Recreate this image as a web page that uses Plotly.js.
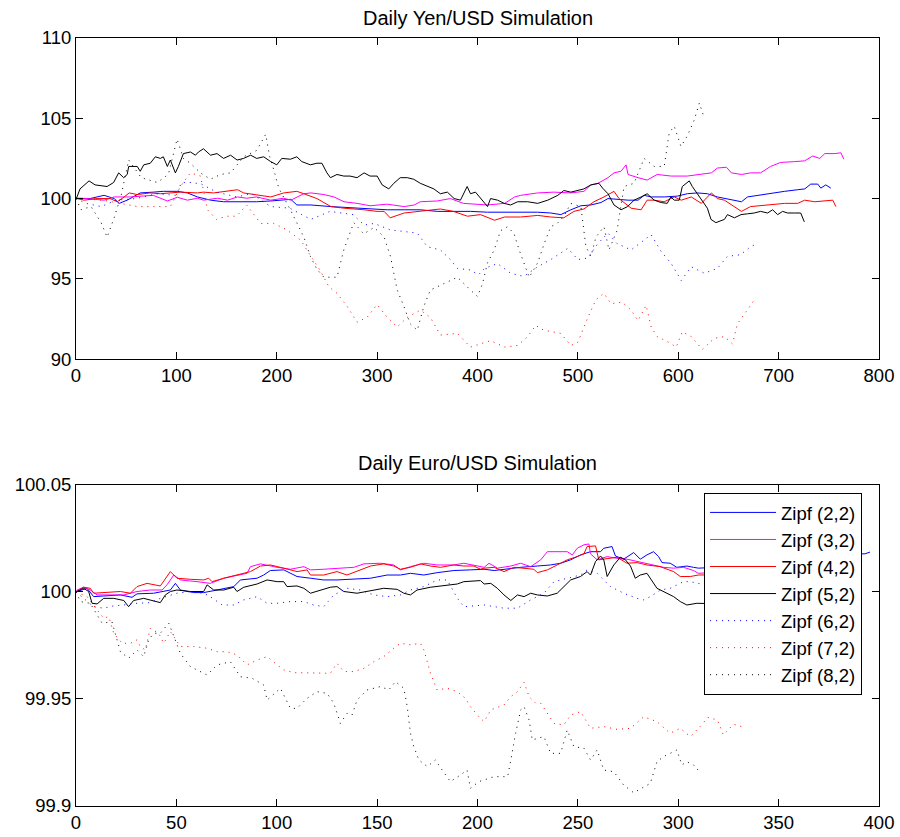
<!DOCTYPE html>
<html>
<head>
<meta charset="utf-8">
<script src="https://cdn.plot.ly/plotly-3.0.1.min.js"></script>
<style>html,body{margin:0;padding:0;background:#fff;}#chart{width:900px;height:837px;}</style>
</head>
<body>
<div id="chart"></div>
<script>
// ---------- Daily Yen/USD Simulation ----------
const seriesNames = ["Zipf (2,2)","Zipf (3,2)","Zipf (4,2)","Zipf (5,2)","Zipf (6,2)","Zipf (7,2)","Zipf (8,2)"];

const yenX22 = [0,1,14,28,38,43,51,64,77,87,101,111,121,134,147,167,180,194,214,220,234,254,277,293,310,327,343,360,376,393,410,427,443,460,473,483,493,503,513,523,530,540,550,560,566,573,586,599,609,619,629,639,653,663,669,679,692,706,719,726,732,739,742,747,752];
const yenY22 = [100,100.02,100,100.2,100,99.7,99.9,100.35,100.4,100.45,100.45,100.35,100.1,99.9,99.8,99.8,99.8,99.85,99.95,99.6,99.6,99.5,99.4,99.35,99.3,99.3,99.3,99.2,99.2,99.2,99.15,99.15,99.15,99.15,99.1,99.0,99.3,99.55,99.6,99.75,100.0,99.95,99.9,99.9,100.2,100.1,100.1,100.15,100.3,100.35,100.3,100.1,99.9,99.8,100.1,100.2,100.35,100.45,100.55,100.6,100.9,100.9,100.65,100.85,100.65];

const yenX32 = [0,1,11,28,38,54,77,91,101,111,121,127,141,151,161,170,180,194,207,214,227,234,247,257,267,280,293,310,327,337,343,360,373,386,403,410,427,437,443,460,476,493,506,513,520,530,536,543,548,550,560,569,579,593,609,623,633,639,648,653,663,672,682,692,702,716,726,734,741,746,756,762,765];
const yenY32 = [100,100,100,99.9,100.1,100.1,100.2,99.85,100.08,99.9,100.02,99.9,100.02,99.9,100.1,100.02,100.1,99.9,100.02,99.9,100.3,100.35,100.25,100.1,99.8,99.7,99.55,99.65,99.5,99.6,99.8,99.85,100.0,99.7,99.65,99.6,99.7,100.1,100.2,100.35,100.4,100.35,100.45,100.85,100.95,101.3,101.6,101.7,102.1,101.5,101.3,101.15,101.5,101.4,101.4,101.5,101.6,101.9,101.95,101.6,101.5,101.6,101.6,102.0,102.25,102.3,102.35,102.65,102.5,102.8,102.8,102.85,102.45];

const yenX42 = [0,1,8,21,34,41,48,53,61,74,84,94,104,121,127,137,151,161,167,180,194,207,220,227,240,254,267,287,300,307,313,327,343,353,363,376,390,403,407,417,427,443,460,473,486,496,506,516,526,536,541,553,563,569,576,586,596,603,613,623,633,639,646,653,663,672,682,692,706,719,726,736,746,754,757];
const yenY42 = [100,100,99.9,100,100,99.8,100.1,100.35,100.25,100.35,100.3,100.35,100.4,100.35,100.4,100.35,100.45,100.55,100.35,100.25,100.1,100.35,100.45,100.3,100.0,99.5,99.4,99.3,99.2,99.2,98.8,99.1,99.2,99.3,99.35,99.2,98.9,99.0,98.9,98.65,98.85,98.85,98.95,98.85,98.8,99.2,99.35,99.8,100.1,100.45,100.0,99.4,99.3,99.9,99.9,99.8,100.1,99.9,100.1,99.7,100.35,100.0,99.9,99.6,99.2,99.5,99.55,99.6,99.7,99.7,99.9,99.8,99.85,99.9,99.5];

const yenX52 = [0,1,4,13,19,31,37.5,42.5,47.5,51,52.5,61,64,67.5,74,79,84,87,91,94,99,102,107,114,119,122,127,134,140.5,147,154,160.5,167,174,180,187,194,200,205,213.6,220,225,233.5,240,245,250,253.5,260,266.8,273,280,287,293,300,305,311.6,316.6,323,330,336.5,343,350,356.5,363,370,376.7,383,389.7,393,398,403,410,413,420,426.6,433,440,450,460,470,480,486,493,500,506,513,521,524.6,530,536,543,549.5,556,563,569,576,583,589,592.7,596,601,604,611,614,619,624,629,632.6,637.5,646,649,656,662.5,669,675.7,682,689,694,699,704,709,715.6,722,725.6];
const yenY52 = [100,100.1,100.6,101.1,100.85,100.75,101.0,101.6,101.3,101.5,102.0,102.0,101.7,102.1,102.2,102.6,102.5,102.6,102.0,102.4,101.6,102.0,102.8,102.9,102.7,102.9,103.1,102.7,102.8,102.5,102.7,102.4,102.5,102.7,102.5,102.6,102.3,102.1,102.5,102.45,102.6,102.3,102.1,102.2,102.2,101.6,101.3,101.5,101.4,101.4,101.3,101.6,101.4,101.4,100.85,100.6,100.95,101.3,101.3,101.2,100.95,100.75,100.6,100.3,100.4,100.0,99.9,100.75,100.3,100.4,100.0,99.5,100.0,99.9,99.7,99.6,99.8,99.8,99.7,99.9,100.2,100.5,100.4,100.5,100.6,100.85,100.95,100.65,100.3,99.6,99.3,99.5,99.9,100.1,100.3,99.9,99.75,99.7,100.1,99.9,99.9,100.75,101.1,100.75,100.3,99.9,99.4,98.7,98.5,98.7,99.0,98.8,99.0,99.05,99.1,99.2,99.1,99.3,99.0,99.2,99.1,99.1,99.1,98.55];

const yenX62 = [0,10,25,40,60,80,100,105,115,125,140,160,175,194,213,234,253,276,287,297,313,327,340,350,363,373,380,393,401,407,420,433,446,460,473,490,500,510,520,530,539,553,566,573,583,593,603,613,626,639,649,662,672,679];
const yenY62 = [100,99.7,99.5,99.9,100.0,100.3,100.2,101.0,101.0,100.9,100.4,100.1,100.3,99.5,99.4,98.7,99.2,99.0,98.35,98.45,98.05,97.95,97.85,97.0,96.8,96.2,95.65,95.55,95.25,95.65,95.95,95.35,95.15,95.75,96.2,96.9,96.2,96.3,97.2,97.85,97.2,96.8,97.4,97.75,96.7,95.95,94.9,95.75,95.35,95.65,96.4,96.5,97.0,97.2];

const yenX72 = [0,27,61,94,104,114,124,131,140,150,160,170,184,197,210,224,234,243,252,260,270,280,290,300,310,320,330,343,353,363,380,393,403,413,427,440,450,458,466,473,483,493,500,510,518,526,533,544,553,560,568,573,579,589,598,604,613,624,636,646,654,659,669,676];
const yenY72 = [100,99.9,99.5,99.5,100.75,101.6,101.4,99.3,98.7,98.9,98.9,99.6,98.45,98.45,98.05,97.4,96.4,95.55,94.5,94.1,93.3,92.3,92.6,93.4,92.6,92.0,92.6,93.05,92.6,91.5,91.6,90.75,90.95,91.15,90.75,90.85,91.4,92.1,91.8,91.7,91.6,90.85,91.05,92.6,93.7,94.1,93.45,93.55,93.05,92.4,93.35,92.0,91.4,91.1,90.75,91.7,91.4,90.6,91.3,91.4,90.95,92.2,93.05,93.7];

const yenX82 = [0,5,15,25,31,38,45,52.5,65,81,92,100.7,107,114,124,134,144,154,167,180,189,193,197,202,213.6,220,227,233.5,240,247,260,266.8,276.7,286.6,297,307,313.3,320,326.6,333,340,346.6,353,366.5,380,393,400,405,410,416.6,423,430,436.5,441.5,446.5,451.5,460,466.5,473,479.5,486,493,503,508,513,518,526,531,539,546,556,563,566,576,586,591,596,602.7,609,616,621,626];
const yenY82 = [100,99.3,99.5,98.5,97.6,98.8,100.2,102.4,101.3,101.0,101.5,103.7,102.5,102.2,101.6,101.2,101.5,101.6,102.6,103.0,104.0,102.6,101.8,100.65,99.3,98.5,97.6,96.4,95.6,95.1,95.1,96.8,98.5,97.8,98.2,97.6,96.4,94.3,93.3,92.2,91.8,93.3,94.3,94.7,95.1,94.3,93.9,94.7,96.0,96.8,98.0,98.25,97.8,96.8,96.0,95.1,96.0,97.2,98.25,98.45,98.9,99.7,99.5,97.0,96.4,97.6,98.25,96.8,98.0,100.75,100.95,102.0,102.5,102.0,102.0,104.1,104.5,103.25,103.9,104.9,105.95,105.0];

// ---------- Daily Euro/USD Simulation ----------
const euroX22 = [0,0.5,5.5,8.8,13.8,22.1,27.9,30.4,38.7,43.7,47,49.5,52,58.6,63.6,68.6,75.2,78.6,81.9,90.2,93.5,96.8,103.5,110.1,116.8,123.4,130,138.4,146.7,155,161.6,166.6,173.3,179.9,188.2,196.5,201.5,203.3,208.3,213.2,221.5,229.8,236.4,241.4,246.4,251.3,256.3,261.3,262.9,267,268.7,272.8,276.2,277.8,281.1,284.4,287.7,290.2,291.9,296,299.3,304.3,307.6,310.1,325,340,355,370,383,389,393,395.5];
const euroY22 = [100,100.0002,100.0017,99.9978,99.9981,99.9986,99.9975,99.9991,99.9994,100.0002,100.0009,100.004,100.0009,99.9997,99.9997,100.0006,100.0017,100.0025,100.0056,100.0064,100.0079,100.01,100.0103,100.0072,100.0064,100.0056,100.0056,100.0059,100.0064,100.0079,100.0079,100.0087,100.0079,100.009,100.01,100.0103,100.0106,100.0106,100.01,100.0106,100.0115,100.0121,100.0126,100.0134,100.015,100.0173,100.0188,100.0188,100.0204,100.0212,100.0168,100.0153,100.0173,100.0184,100.0153,100.0173,100.0188,100.0165,100.0137,100.0134,100.0115,100.0121,100.0115,100.0111,100.0118,100.013,100.0145,100.016,100.0172,100.0178,100.0178,100.0186];

const euroX32 = [0,0.5,3.8,7.1,10.5,17.1,23.8,30.4,37,42.9,45.3,48.7,52,60.3,66.9,73.6,80.2,85.2,86.9,91.9,100.2,106.8,113.5,116.8,123.4,130,138.4,143.4,151.7,158.3,161.6,166.6,173.3,179.9,188.2,193.2,201.5,203.3,205.8,209.9,216.6,221.5,226.5,231.5,234.8,239.7,244.7,247.2,249.7,253,255.5,256.3,259.6,264.6,269.5,274.5,279.5,286.1,292.7,297.7,302.6,307.6,310,320,333];
const euroY32 = [100,100.0009,100.0022,100.0009,99.9986,99.9986,99.9986,100.0002,100.0009,100.0009,100.0033,100.0079,100.0056,100.0048,100.004,100.0064,100.0079,100.0087,100.0118,100.0131,100.0115,100.0106,100.0118,100.0103,100.0106,100.0111,100.0115,100.0131,100.0134,100.0126,100.0103,100.0118,100.0134,100.0126,100.0126,100.0134,100.0121,100.0115,100.0134,100.0111,100.0121,100.0134,100.0118,100.015,100.0188,100.0188,100.0188,100.0173,100.0204,100.022,100.0224,100.0178,100.015,100.0165,100.0157,100.0153,100.0142,100.0126,100.0115,100.0111,100.0115,100.01,100.0087,100.0092,100.0088];

const euroX42 = [0,0.5,3.8,7.1,8.8,13.8,22.1,27.1,30.4,35.4,42,47,50.3,57,63.6,66.1,67.8,73.6,80.2,86.9,91.9,96.8,103.5,110.1,115.1,116.8,123.4,130,135,141.7,146.7,153.3,158.3,161.6,166.6,171.6,176.6,181.6,188.2,193.2,198.2,201.5,203.3,208.3,211.6,213.2,218.2,223.2,228.1,229.8,234.8,239.7,244.7,249.7,253,254.6,258.8,260.4,264.6,269.5,274.5,279.5,284.4,291,297.7,301,306,310,318,330];
const euroY42 = [100,100.0002,100.0022,100.0017,99.9994,99.9997,100.0002,99.9994,100.0025,100.004,100.0028,100.0095,100.0064,100.0059,100.0056,100.0064,100.0048,100.0064,100.0079,100.0095,100.0121,100.0126,100.0111,100.0095,100.0103,100.0079,100.0079,100.0095,100.0079,100.0103,100.0121,100.0131,100.0121,100.0106,100.0115,100.0131,100.0121,100.0115,100.0126,100.0121,100.0121,100.0106,100.0111,100.0115,100.0103,100.0095,100.0115,100.0111,100.0106,100.009,100.0103,100.0126,100.015,100.0165,100.0178,100.0212,100.0215,100.015,100.0157,100.0162,100.0134,100.0137,100.0126,100.0118,100.0095,100.0072,100.0072,100.0079,100.008,100.0085];

const euroX52 = [0,0.5,3.8,6.3,8,10.5,13.8,18.8,23.8,26.2,28.7,33.7,38.7,42,44.5,47,50.3,57,63.6,65.3,68.6,73.6,78.6,80.2,83.6,90.2,95.2,100.2,103.5,105.1,110.1,113.5,116.8,121.8,126.7,130,133.4,140,146.7,153.3,160,163.3,166.6,169.9,176.6,183.2,189.9,193.2,201.5,203.3,206.6,209.9,213.2,216.6,219.9,223.2,226.5,229.8,234.8,239.7,243,246.4,251.3,254.6,256.3,258.8,261.3,262.9,264.6,267.9,271.2,273.7,276.2,278.6,281.1,284.4,289.4,292.7,297.7,301,304.3,309.3,318,328,338];
const euroY52 = [100,100.0002,100.0017,100.0002,99.9947,99.9944,99.997,99.997,99.996,99.9931,99.996,99.997,99.996,99.995,99.9986,100.0002,100.0009,100.0002,100.0002,100.0033,100.0009,100.0009,100.0022,100.0002,100.0022,100.0037,100.0056,100.0048,100.0048,100.0025,100.0028,100.0017,99.9994,100.0009,100.0022,100.0025,100.0002,99.9994,100.0006,100.0017,100.0012,99.9994,99.9986,100.0009,100.0022,100.0028,100.0037,100.0048,100.0053,100.0037,100.004,100.0017,99.9986,99.996,99.9986,99.9978,99.9994,99.9986,99.9981,99.9994,100.0025,100.0056,100.0072,100.0095,100.0079,100.0142,100.0168,100.015,100.0072,100.0126,100.0162,100.015,100.0121,100.0064,100.0079,100.0087,100.0017,100.0002,99.9978,99.9955,99.9939,99.9947,99.9945,99.995,99.9948];

const euroX62 = [0,3.8,8.8,13.8,18.8,23.8,30.4,37,42,50.3,57,63.6,66.9,72.8,78.6,83.6,90.2,95.2,100.2,106.8,113.5,118.4,123.4,128.4,135,141.7,148.3,155,161.6,166.6,173.3,179.9,184.9,190,193.2,198.2,203.3,213.2,219.9,226.5,233.1,238.1,244.7,251.3,254.6,259.6,262.9,266.2,272.8,279.5,282.8,286.1,291.1,296,302.6,305.9,315,322];
const euroY62 = [100,99.997,99.9931,99.9924,99.9935,99.9939,99.9947,99.995,99.997,99.9994,100.0002,99.9994,99.9978,99.9939,99.9939,99.9963,99.9978,99.9947,99.9947,99.9955,99.9955,99.9939,99.9931,99.9986,100.0017,100.0009,99.9986,99.9978,99.9986,100.0009,100.0025,100.0056,100.0056,99.997,99.9931,99.9935,99.9939,99.9924,99.9924,99.9963,99.9994,100.0048,100.0064,100.0079,100.0103,100.0087,100.0056,100.0025,99.9994,99.997,99.9963,99.9978,100.0009,100.0017,100.0048,100.0048,100.003,100.001];

const euroX72 = [0,5.5,10.5,13.8,16.3,18.8,23,27.1,30.4,32,34.5,37,41.2,43.7,47,52,58.6,65.3,70.3,75.2,80.2,85.2,90.2,95.2,100.2,103.5,108.5,113.5,120.1,126.7,130,133.4,138.4,143.4,148.3,153.3,158.3,161.6,166.6,171.6,173.3,176.6,179.9,184.9,190,194,196.5,200.7,203.3,206.6,213.2,216.6,219.9,223.2,225.7,229,231.5,234.8,238.1,243,246.4,251.3,256.3,262.9,269.5,276.2,282.8,289.4,296,301,306,311.3,314.7,319.5,322.5,327.5,332.5];
const euroY72 = [100,99.9978,99.9916,99.9877,99.9885,99.9807,99.976,99.976,99.9776,99.9745,99.9729,99.983,99.9807,99.976,99.9815,99.9745,99.9745,99.9737,99.9721,99.9721,99.9706,99.9659,99.9682,99.9698,99.9659,99.9636,99.9623,99.9623,99.9623,99.962,99.9667,99.9628,99.9628,99.9643,99.9674,99.9698,99.9737,99.976,99.9753,99.976,99.9729,99.962,99.9542,99.955,99.9534,99.9503,99.9464,99.9417,99.9394,99.9449,99.9472,99.9511,99.9534,99.9578,99.9511,99.948,99.948,99.9433,99.9386,99.9379,99.9425,99.9441,99.9363,99.9371,99.9358,99.9363,99.9417,99.9394,99.934,99.9363,99.9324,99.9375,99.9414,99.9402,99.9332,99.9382,99.9368];

const euroX82 = [0,2.2,7.1,13,17.9,22.1,26.2,30.4,33.7,36.2,38.7,42,46.2,48.7,52,57,65.3,70.3,76.9,81.9,87.7,93.5,95.2,101.8,106.8,110.1,115.1,120.1,125.1,128.4,131.7,135,137.5,140,145,151.7,155.8,159.1,163.3,165,166.6,168.3,170.8,175,179,182.4,186.5,191.5,194.8,196.5,200.7,208.3,215,216.6,219,221.5,223.2,225.7,227.3,229.8,233.1,236.4,241.4,244.7,248,253,256.3,259.6,262.9,267.9,272.8,277.8,282.8,286.1,289.4,292.7,296,299.3,301.8,304.3,307.6,311];
const euroY82 = [100,99.9955,99.9947,99.9854,99.9861,99.9721,99.969,99.9729,99.9698,99.9776,99.9807,99.9807,99.9854,99.9791,99.9713,99.9651,99.9612,99.9659,99.9674,99.9604,99.9597,99.9565,99.9495,99.955,99.9456,99.9456,99.9503,99.9534,99.9526,99.948,99.9386,99.9433,99.9425,99.9495,99.9542,99.9558,99.9542,99.9581,99.955,99.9464,99.934,99.9277,99.9215,99.9184,99.9215,99.9168,99.9114,99.9145,99.9168,99.9083,99.9114,99.9137,99.9137,99.9215,99.934,99.9449,99.9464,99.9402,99.9308,99.9316,99.9324,99.9246,99.9246,99.9355,99.9277,99.927,99.9215,99.9262,99.9168,99.916,99.9098,99.9062,99.909,99.9106,99.9207,99.9231,99.9246,99.9262,99.9192,99.9207,99.9192,99.9156];

// ---------- tick labels ----------
const yenYTicks = [90,95,100,105,110];
const euroYTicks = [99.9,99.95,100,100.05];
const euroYTickText = ["99.9","99.95","100","100.05"];

// ---------- styles ----------
const colors = ["#0000ff","#ff00ff","#ff0000","#000000","#0000ff","#ff0000","#000000"];
const dashes = ["solid","solid","solid","solid","1px,5px","1px,5px","1px,5px"];

const yenXs = [yenX22,yenX32,yenX42,yenX52,yenX62,yenX72,yenX82];
const yenYs = [yenY22,yenY32,yenY42,yenY52,yenY62,yenY72,yenY82];
const euroXs = [euroX22,euroX32,euroX42,euroX52,euroX62,euroX72,euroX82];
const euroYs = [euroY22,euroY32,euroY42,euroY52,euroY62,euroY72,euroY82];

const traces = [];
for (let i = 0; i < 7; i++) {
  traces.push({x: yenXs[i], y: yenYs[i], type: "scatter", mode: "lines", name: seriesNames[i],
    xaxis: "x", yaxis: "y", showlegend: false,
    line: {color: colors[i], width: 1, dash: dashes[i]}});
}
for (let i = 0; i < 7; i++) {
  traces.push({x: euroXs[i], y: euroYs[i], type: "scatter", mode: "lines", name: seriesNames[i],
    xaxis: "x2", yaxis: "y2", showlegend: true,
    line: {color: colors[i], width: 1, dash: dashes[i]}});
}

const FONT = "Liberation Sans, Arial, Helvetica, sans-serif";
const axisCommon = {
  showline: true, linecolor: "#000", linewidth: 1, mirror: "ticks",
  ticks: "inside", ticklen: 7, tickcolor: "#000", tickwidth: 1,
  showgrid: false, zeroline: false, tickfont: {family: FONT, size: 18.5, color: "#000"}
};

const layout = {
  width: 900, height: 837,
  margin: {l: 75.7, r: 21, t: 38.3, b: 31},
  paper_bgcolor: "#fff", plot_bgcolor: "#fff",
  font: {family: FONT, color: "#000"},
  xaxis: Object.assign({}, axisCommon, {domain: [0,1], anchor: "y", range: [0,800], dtick: 100, tick0: 0}),
  yaxis: Object.assign({}, axisCommon, {domain: [0.5819,1], anchor: "x", range: [90,110], tickvals: yenYTicks}),
  xaxis2: Object.assign({}, axisCommon, {domain: [0,1], anchor: "y2", range: [0,400], dtick: 50, tick0: 0}),
  yaxis2: Object.assign({}, axisCommon, {domain: [0,0.4181], anchor: "x2", range: [99.9,100.05], tickvals: euroYTicks, ticktext: euroYTickText}),
  showlegend: true,
  legend: {x: 0.9789, xanchor: "right", y: 0.4077, yanchor: "top",
    bgcolor: "#fff", bordercolor: "#000", borderwidth: 1,
    font: {family: FONT, size: 18.5, color: "#000"}, itemwidth: 66, tracegroupgap: 0},
  annotations: [
    {text: "Daily Yen/USD Simulation", xref: "paper", yref: "paper", x: 0.5002, y: 1.0265,
      xanchor: "center", yanchor: "middle", showarrow: false, font: {family: FONT, size: 20, color: "#000"}},
    {text: "Daily Euro/USD Simulation", xref: "paper", yref: "paper", x: 0.5002, y: 0.4468,
      xanchor: "center", yanchor: "middle", showarrow: false, font: {family: FONT, size: 20, color: "#000"}}
  ]
};

Plotly.newPlot("chart", traces, layout, {displayModeBar: false, staticPlot: true});
</script>
</body>
</html>
